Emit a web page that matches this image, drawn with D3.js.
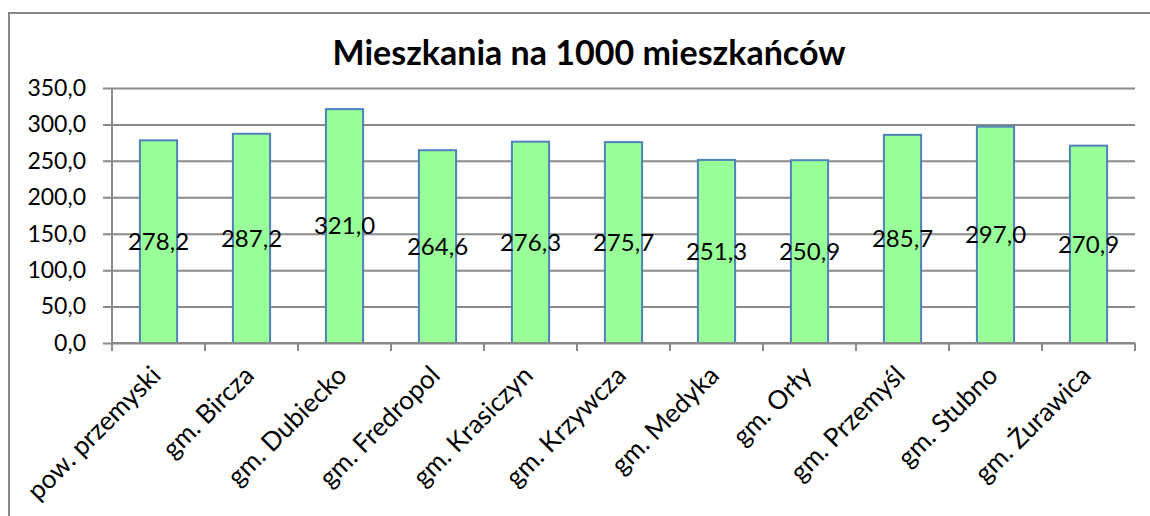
<!DOCTYPE html>
<html>
<head>
<meta charset="utf-8">
<script src="https://cdn.jsdelivr.net/npm/d3@7"></script>
<style>
  body { margin: 0; background: #fff; }
  svg text { font-family: Lato, "Open Sans", sans-serif; fill: #000; }
</style>
</head>
<body>
<svg id="chart" width="1150" height="516"></svg>
<script>
// data
var categories = ["pow. przemyski", "gm. Bircza", "gm. Dubiecko", "gm. Fredropol", "gm. Krasiczyn",
  "gm. Krzywcza", "gm. Medyka", "gm. Orły", "gm. Przemyśl", "gm. Stubno", "gm. Żurawica"];
var values = [278.2, 287.2, 321.0, 264.6, 276.3, 275.7, 251.3, 250.9, 285.7, 297.0, 270.9];
var yTicks = [0, 50, 100, 150, 200, 250, 300, 350];
var title = "Mieszkania na 1000 mieszkańców";

var svg = d3.select("#chart"),
    MARGINS = { top: 88, right: 1150 - 1135, bottom: 516 - 343, left: 112 },
    WIDTH = 1150, HEIGHT = 516;

var fmt = function (v) { return d3.format(".1f")(v).replace(".", ","); };

// outer frame (only top and left edges visible)
svg.append("rect")
    .attr("x", 9).attr("y", 13)
    .attr("width", 1200).attr("height", 600)
    .attr("fill", "none")
    .attr("stroke", "#878787")
    .attr("stroke-width", 2);

var xScale = d3.scaleBand()
    .domain(categories)
    .range([MARGINS.left, WIDTH - MARGINS.right])
    .paddingInner(0.6).paddingOuter(0.3);

var xBand = d3.scaleBand()
    .domain(categories)
    .range([MARGINS.left, WIDTH - MARGINS.right]);

var yScale = d3.scaleLinear()
    .domain([0, 350])
    .range([HEIGHT - MARGINS.bottom, MARGINS.top]);

// gridlines + y axis
var yAxis = d3.axisLeft(yScale)
    .tickValues(yTicks)
    .tickSize(-(WIDTH - MARGINS.left - MARGINS.right))
    .tickPadding(26)
    .tickFormat(fmt);

var gy = svg.append("g")
    .attr("transform", "translate(" + MARGINS.left + ",0)")
    .call(yAxis);
gy.select(".domain").remove();
gy.selectAll(".tick line")
    .attr("x1", -9)
    .attr("stroke", "#8a8a8a")
    .attr("stroke-width", 2);
gy.selectAll(".tick text")
    .style("font-size", "23px");

// left axis line
svg.append("line")
    .attr("x1", MARGINS.left).attr("x2", MARGINS.left)
    .attr("y1", yScale(350)).attr("y2", yScale(0))
    .attr("stroke", "#8a8a8a").attr("stroke-width", 2);

// bars
svg.append("g").selectAll("rect")
    .data(values)
    .enter().append("rect")
    .attr("x", function (d, i) { return xScale(categories[i]); })
    .attr("y", function (d) { return yScale(d); })
    .attr("width", xScale.bandwidth())
    .attr("height", function (d) { return yScale(0) - yScale(d); })
    .attr("fill", "#99ff99")
    .attr("stroke", "#4f81bd")
    .attr("stroke-width", 2);

// x axis with ticks between categories
var xTickPos = categories.map(function (c) { return xBand(c); }).concat([WIDTH - MARGINS.right]);
var gx = svg.append("g");
gx.append("line")
    .attr("x1", MARGINS.left).attr("x2", WIDTH - MARGINS.right)
    .attr("y1", yScale(0)).attr("y2", yScale(0))
    .attr("stroke", "#8a8a8a").attr("stroke-width", 2);
gx.selectAll("line.tk")
    .data(xTickPos)
    .enter().append("line")
    .attr("class", "tk")
    .attr("x1", function (d) { return d; }).attr("x2", function (d) { return d; })
    .attr("y1", yScale(0)).attr("y2", yScale(0) + 8)
    .attr("stroke", "#8a8a8a").attr("stroke-width", 2);

// rotated category labels
gx.selectAll("text")
    .data(categories)
    .enter().append("text")
    .attr("transform", function (d) {
      var cx = xBand(d) + xBand.bandwidth() / 2 - 8;
      return "translate(" + cx + "," + (yScale(0) + 22) + ") rotate(-45)";
    })
    .attr("text-anchor", "end")
    .attr("dy", "17px")
    .style("font-size", "26px")
    .text(function (d) { return d; });

// value labels in the middle of each bar
svg.append("g").selectAll("text")
    .data(values)
    .enter().append("text")
    .attr("x", function (d, i) { return xScale(categories[i]) + xScale.bandwidth() / 2; })
    .attr("y", function (d) { return yScale(d / 2); })
    .attr("dy", "0.35em")
    .attr("text-anchor", "middle")
    .style("font-size", "24px")
    .text(fmt);

// title
svg.append("text")
    .attr("x", 589)
    .attr("y", 65)
    .attr("text-anchor", "middle")
    .style("font-size", "34px")
    .style("font-weight", "bold")
    .text(title);
</script>
</body>
</html>
